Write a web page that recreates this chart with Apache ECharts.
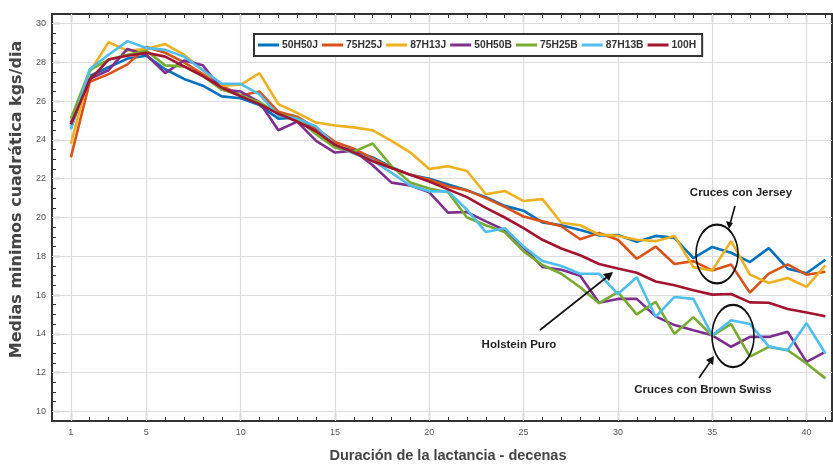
<!DOCTYPE html>
<html>
<head>
<meta charset="utf-8">
<script src="https://cdn.jsdelivr.net/npm/echarts@6/dist/echarts.min.js"></script>
<style>html,body{margin:0;padding:0;background:#fff}#c{width:833px;height:464px}</style>
</head>
<body>
<div id="c"></div>
<script>
const decenas = [1,2,3,4,5,6,7,8,9,10,11,12,13,14,15,16,17,18,19,20,21,22,23,24,25,26,27,28,29,30,31,32,33,34,35,36,37,38,39,40,41];
const xTickLabels = [1,5,10,15,20,25,30,35,40];
const yTickLabels = [10,12,14,16,18,20,22,24,26,28,30];
const seriesNames = ['50H50J','75H25J','87H13J','50H50B','75H25B','87H13B','100H'];
const s50H50J = [24.6,27.3,27.75,28.2,28.35,27.65,27.15,26.8,26.25,26.15,25.8,25.1,25.15,24.5,23.7,23.45,23.1,22.6,22.2,22.0,21.7,21.4,21.05,20.6,20.35,19.75,19.6,19.35,19.08,19.1,18.75,19.05,18.95,17.9,18.48,18.18,17.7,18.42,17.36,17.12,17.82];
const s75H25J = [23.1,27.0,27.4,27.9,28.8,28.5,28.0,27.4,26.8,26.3,26.5,25.45,25.2,24.6,23.9,23.55,23.05,22.55,22.2,21.95,21.6,21.4,21.0,20.55,20.05,19.8,19.55,18.88,19.2,18.85,17.87,18.5,17.6,17.75,17.27,17.58,16.12,17.1,17.58,17.05,17.2];
const s87H13J = [23.8,27.5,29.05,28.6,28.7,28.95,28.4,27.6,26.8,26.85,27.45,25.85,25.4,24.9,24.75,24.65,24.5,23.95,23.35,22.5,22.65,22.4,21.2,21.37,20.85,20.95,19.73,19.6,19.12,19.05,18.85,18.78,19.05,17.44,17.27,18.78,17.05,16.62,16.88,16.42,17.53];
const s50H50B = [24.9,27.15,27.6,28.7,28.4,27.45,28.1,27.85,26.6,26.5,25.95,24.5,24.95,23.95,23.35,23.45,22.7,21.8,21.65,21.3,20.25,20.28,19.8,19.35,18.45,17.45,17.3,17.0,15.6,15.8,15.8,14.9,14.45,14.18,13.92,13.33,13.84,13.84,14.1,12.55,13.07];
const s75H25B = [25.1,27.6,28.15,28.4,28.6,27.85,27.8,27.3,26.6,26.3,25.95,25.35,25.1,24.3,23.6,23.4,23.82,22.65,21.8,21.5,21.3,20.0,19.6,19.25,18.25,17.55,17.1,16.4,15.58,16.15,15.0,15.65,14.0,14.86,13.9,14.5,12.82,13.32,13.15,12.47,11.7];
const s87H13B = [24.55,27.65,28.4,29.1,28.75,28.65,28.3,27.6,26.9,26.9,26.35,25.25,25.1,24.7,23.75,23.3,22.95,22.3,21.65,21.35,21.35,20.4,19.25,19.45,18.5,17.75,17.5,17.1,17.1,16.05,16.92,14.87,15.9,15.8,13.92,14.7,14.5,13.35,13.15,14.55,12.98];
const s100H = [24.8,27.1,28.15,28.35,28.5,28.3,27.8,27.3,26.7,26.25,25.85,25.35,24.95,24.45,23.75,23.35,22.9,22.55,22.2,21.85,21.45,21.05,20.5,20.0,19.45,18.85,18.4,18.05,17.6,17.37,17.15,16.7,16.5,16.25,16.02,16.05,15.62,15.6,15.28,15.1,14.9];
const seriesValues = [s50H50J,s75H25J,s87H13J,s50H50B,s75H25B,s87H13B,s100H];
const colors = ['#0072BD','#D95319','#EDB120','#7E2F8E','#77AC30','#4DBEEE','#A2142F'];

const XMIN = 0, XMAX = 41.35, YMIN = 9.5, YMAX = 30.5;
const tickFont = "'Liberation Sans Narrow','Liberation Sans',Arial,sans-serif";
const boldFont = "'Liberation Sans',Arial,sans-serif";
const wideFont = "'DejaVu Sans','Liberation Sans',Arial,sans-serif";
const frameColor = '#333';

const chart = echarts.init(document.getElementById('c'), null, {renderer:'canvas'});

const baseX = {type:'value', min:XMIN, max:XMAX, gridIndex:0, splitLine:{show:false}, axisLine:{show:false}};
const baseY = {type:'value', min:YMIN, max:YMAX, gridIndex:0, splitLine:{show:false}, axisLine:{show:false}};

const lineSeries = seriesNames.map((n,i)=>({
  name:n, type:'line', xAxisIndex:0, yAxisIndex:0,
  data: decenas.map((d,j)=>[d, seriesValues[i][j]]),
  symbol:'none', smooth:false, z:3,
  lineStyle:{width:2.6, color:colors[i]}, itemStyle:{color:colors[i]},
  emphasis:{disabled:true}
}));

const gridSeries = {
  type:'line', data:[], xAxisIndex:0, yAxisIndex:0, silent:true, z:1,
  markLine:{
    silent:true, symbol:['none','none'], z:1, animation:false,
    label:{show:false},
    lineStyle:{color:'#dcdcdc', width:1.2, type:'solid'},
    emphasis:{disabled:true},
    data: xTickLabels.map(v=>({xAxis:v})).concat(yTickLabels.map(v=>({yAxis:v})))
  }
};

const option = {
  animation:false,
  backgroundColor:'#fff',
  grid:{left:52, right:1, top:14, bottom:43, show:true, borderColor:frameColor, borderWidth:2, backgroundColor:'transparent', containLabel:false, outerBoundsMode:'none'},
  legend:{
    data:seriesNames.map(n=>({name:n, icon:'rect'})), left:254, top:34, orient:'horizontal',
    itemWidth:21, itemHeight:3, itemGap:4,
    padding:[6,6,6,4],
    borderColor:'#333', borderWidth:2, backgroundColor:'#fff',
    textStyle:{fontFamily:boldFont, fontWeight:'bold', fontSize:10.3, color:'#333', padding:[0,0,0,-2]},
    selectedMode:false
  },
  xAxis:[
    Object.assign({}, baseX, {position:'bottom', interval:1,
      axisTick:{show:true, inside:true, length:4, lineStyle:{color:frameColor, width:1}}, axisLabel:{show:false},
      name:'Duración de la lactancia - decenas', nameLocation:'middle', nameGap:27,
      nameTextStyle:{fontFamily:boldFont, fontSize:14.5, fontWeight:'bold', color:'#444', padding:[0,0,0,12]}}),
    Object.assign({}, baseX, {position:'bottom',
      axisTick:{show:true, inside:true, length:8, customValues:xTickLabels, lineStyle:{color:frameColor, width:1.2}},
      axisLabel:{show:true, customValues:xTickLabels, margin:7, fontFamily:tickFont, fontSize:9, color:'#555'}}),
    Object.assign({}, baseX, {position:'top', interval:1,
      axisTick:{show:true, inside:true, length:4, lineStyle:{color:frameColor, width:1}}, axisLabel:{show:false}}),
    Object.assign({}, baseX, {position:'top',
      axisTick:{show:true, inside:true, length:8, customValues:xTickLabels, lineStyle:{color:frameColor, width:1.2}}, axisLabel:{show:false}})
  ],
  yAxis:[
    Object.assign({}, baseY, {position:'left', interval:0.5,
      axisTick:{show:true, inside:true, length:4, lineStyle:{color:frameColor, width:1}}, axisLabel:{show:false},
      name:'Medias minimos cuadrática kgs/dia', nameLocation:'middle', nameGap:27, nameRotate:90,
      nameTextStyle:{fontFamily:wideFont, fontSize:16, fontWeight:'bold', color:'#444', padding:[0,0,0,36]}}),
    Object.assign({}, baseY, {position:'left',
      axisTick:{show:true, inside:true, length:8, customValues:yTickLabels, lineStyle:{color:frameColor, width:1.2}},
      axisLabel:{show:true, customValues:yTickLabels, margin:6, fontFamily:tickFont, fontSize:9, color:'#555'}})
  ],
  series:[gridSeries].concat(lineSeries),
  graphic:[
    {type:'text', x:741, y:193, style:{text:'Cruces con Jersey', fontFamily:boldFont, fontWeight:'bold', fontSize:11.5, fill:'#222', align:'center', verticalAlign:'middle'}, z:20},
    {type:'circle', x:717, y:254, scaleY:1.4, shape:{cx:0, cy:0, r:21}, style:{fill:'none', stroke:'#111', lineWidth:1.6, strokeNoScale:true}, z:20},
    {type:'line', shape:{x1:735, y1:206, x2:730, y2:224}, style:{stroke:'#111', lineWidth:1.6}, z:20},
    {type:'polygon', shape:{points:[[729,229],[726,221],[733,223]]}, style:{fill:'#111'}, z:20},

    {type:'text', x:703, y:390, style:{text:'Cruces con Brown Swiss', fontFamily:boldFont, fontWeight:'bold', fontSize:11.5, fill:'#222', align:'center', verticalAlign:'middle'}, z:20},
    {type:'circle', x:733, y:336, scaleY:1.48, shape:{cx:0, cy:0, r:21}, style:{fill:'none', stroke:'#111', lineWidth:1.6, strokeNoScale:true}, z:20},
    {type:'line', shape:{x1:699, y1:378, x2:710, y2:362}, style:{stroke:'#111', lineWidth:1.6}, z:20},
    {type:'polygon', shape:{points:[[714,356],[713,365],[706,360]]}, style:{fill:'#111'}, z:20},

    {type:'text', x:519, y:345, style:{text:'Holstein Puro', fontFamily:boldFont, fontWeight:'bold', fontSize:11.5, fill:'#222', align:'center', verticalAlign:'middle'}, z:20},
    {type:'line', shape:{x1:540, y1:330, x2:607, y2:277}, style:{stroke:'#111', lineWidth:1.6}, z:20},
    {type:'polygon', shape:{points:[[613,272],[609,281],[603,274]]}, style:{fill:'#111'}, z:20}
  ]
};
chart.setOption(option);
</script>
</body>
</html>
